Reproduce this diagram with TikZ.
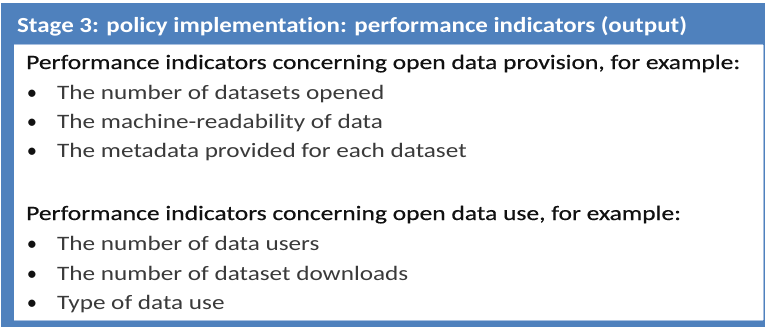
\documentclass[tikz,border=0pt]{standalone}
\usepackage{fontspec}
\setmainfont{Carlito}[Ligatures=NoCommon]
\newfontfamily\titlefont{Carlito Bold}[Ligatures=NoCommon, FakeStretch=1.16]
\newfontfamily\leadfont{Carlito}[Ligatures=NoCommon, FakeStretch=1.245, FakeBold=0.45]
\newfontfamily\itemfont{Carlito}[Ligatures=NoCommon, FakeStretch=1.23]
\definecolor{frameblue}{HTML}{4F81BD}
\definecolor{edgeblue}{HTML}{A7BFDF}
\definecolor{headtext}{HTML}{111111}
\definecolor{itemtext}{HTML}{3A3A3A}
\tikzset{
  title/.style={anchor=base west, inner sep=0pt, text=white, font=\fontsize{21.5}{25}\selectfont\titlefont},
  lead/.style={anchor=base west, inner sep=0pt, text=headtext, font=\fontsize{20.5}{24}\selectfont\leadfont},
  item/.style={anchor=base west, inner sep=0pt, text=itemtext, font=\fontsize{20.5}{24}\selectfont\itemfont},
  dot/.style={anchor=base, inner sep=0pt, text=headtext, font=\fontsize{20.5}{24}\selectfont},
}
\begin{document}
\begin{tikzpicture}[x=1pt,y=-1pt]
\useasboundingbox (0,0) rectangle (765,327);
\fill[white] (0,0) rectangle (765,327);
\fill[frameblue] (1,3) rectangle (765,327);
\fill[white] (14,45) rectangle (763,320);
\draw[edgeblue, line width=1.2pt] (14,44.4) -- (763,44.4);
\draw[edgeblue, line width=1pt] (763.5,45) -- (763.5,320);
\draw[edgeblue, line width=1pt] (14,320.5) -- (763,320.5);

\node[title] (t) at (17,32) {Stage 3: policy implementation: performance indicators (output)};

\node[lead] (h1) at (26,69) {Performance indicators concerning open data provision, for example:};
\node[dot] (b1) at (32,99) {•};
\node[item] (i1) at (57,99) {The number of datasets opened};
\node[dot] (b2) at (32,128) {•};
\node[item] (i2) at (57,128) {The machine-readability of data};
\node[dot] (b3) at (32,157) {•};
\node[item] (i3) at (57,157) {The metadata provided for each dataset};

\node[lead] (h2) at (26,220) {Performance indicators concerning open data use, for example:};
\node[dot] (b4) at (32,250) {•};
\node[item] (i4) at (57,250) {The number of data users};
\node[dot] (b5) at (32,280) {•};
\node[item] (i5) at (57,280) {The number of dataset downloads};
\node[dot] (b6) at (32,309) {•};
\node[item] (i6) at (57,309) {Type of data use};
\end{tikzpicture}
\end{document}
